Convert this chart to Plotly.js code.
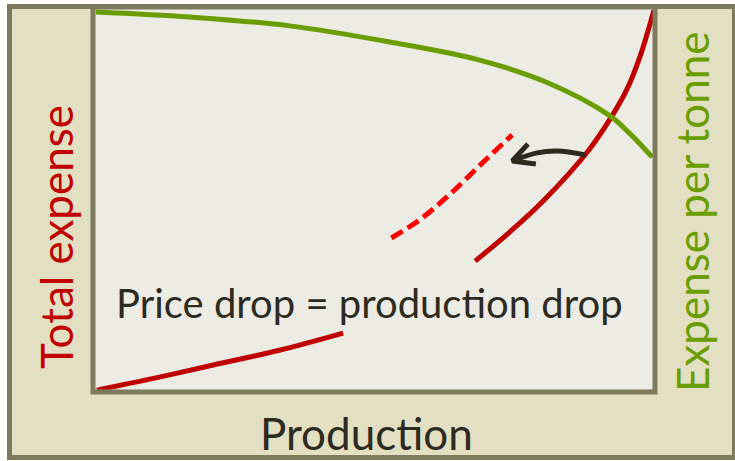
<!DOCTYPE html>
<html>
<head>
<meta charset="utf-8">
<script src="https://cdn.plot.ly/plotly-3.0.1.min.js"></script>
<style>html,body{margin:0;padding:0;background:#fff;}#chart{width:735px;height:461px;}</style>
</head>
<body>
<div id="chart"></div>
<script>
// Total expense curve (production, expense) - gap where the label sits
var totalX = [0.7, 11.0, 21.4, 33.3, 44.5, null, 68.0, 74.2, 80.1, 88.1, 92.3, 95.0, 97.3, 98.8, 99.8];
var totalY = [0.5, 3.6, 7.0, 10.9, 15.3, null, 34.0, 41.6, 49.6, 62.6, 71.6, 78.6, 87.0, 94.0, 99.2];
// Shifted total expense curve after the price drop (dashed)
var shiftedX = [53.1, 58.1, 63.4, 69.3, 74.6];
var shiftedY = [40.0, 44.7, 51.2, 59.5, 66.8];
// Expense per tonne curve
var perTonneX = [0.5, 17.2, 35.0, 52.8, 68.8, 80.6, 91.8, 95.4, 99.5];
var perTonneY = [98.7, 97.4, 95.1, 90.9, 86.2, 80.5, 71.9, 67.3, 61.0];
// Curved arrow (shaft and head)
var arrowShaftX = [87.6, 82.6, 79.0, 74.6];
var arrowShaftY = [61.6, 62.6, 62.1, 60.0];
var arrowHeadX = [77.4, 74.6, 78.8];
var arrowHeadY = [64.4, 60.0, 59.2];
// Texts
var xLabel = "Production";
var yLabel = "Total expense";
var y2Label = "Expense per tonne";
var note = "Price drop = production drop";

var RED = "#c00000", GREEN = "#6a9e00", DARK = "#2d2a1f", BORDER = "#7e7a5d";
var FONT = "Lato, 'Noto Sans', sans-serif";

var traces = [
  {x: totalX, y: totalY, mode: "lines", line: {color: RED, width: 5, shape: "spline", smoothing: 1}, connectgaps: false, hoverinfo: "skip"},
  {x: shiftedX, y: shiftedY, mode: "lines", line: {color: "#ff0000", width: 5, shape: "spline", dash: "13px,6px"}, hoverinfo: "skip"},
  {x: perTonneX, y: perTonneY, mode: "lines", line: {color: GREEN, width: 5, shape: "spline"}, hoverinfo: "skip"},
  {x: arrowShaftX, y: arrowShaftY, mode: "lines", line: {color: DARK, width: 5, shape: "spline"}, hoverinfo: "skip"},
  {x: arrowHeadX, y: arrowHeadY, mode: "lines", line: {color: DARK, width: 5}, hoverinfo: "skip"}
];

var layout = {
  width: 735, height: 461,
  margin: {l: 93, r: 80, t: 7, b: 69, pad: 0},
  paper_bgcolor: "#ffffff",
  plot_bgcolor: "rgba(0,0,0,0)",
  showlegend: false,
  xaxis: {range: [0, 100], showgrid: false, zeroline: false, showticklabels: false, ticks: "", showline: false, fixedrange: true},
  yaxis: {range: [0, 100], showgrid: false, zeroline: false, showticklabels: false, ticks: "", showline: false, fixedrange: true},
  shapes: [
    {type: "rect", xref: "paper", yref: "paper", x0: -0.1486, x1: 1.1415, y0: -0.1701, y1: 1.0013,
     fillcolor: "#e3dfc2", line: {color: BORDER, width: 5}, layer: "below"},
    {type: "rect", xref: "paper", yref: "paper", x0: 0, x1: 1, y0: 0, y1: 1,
     fillcolor: "#ecebe4", line: {width: 0}, layer: "below"},
    {type: "rect", xref: "paper", yref: "paper", x0: 0, x1: 1, y0: 0, y1: 1,
     fillcolor: "rgba(0,0,0,0)", line: {color: BORDER, width: 5}, layer: "above"}
  ],
  annotations: [
    {text: yLabel, xref: "paper", yref: "paper", x: -0.0658, y: 0.4026, xanchor: "center", yanchor: "middle",
     textangle: -90, showarrow: false, font: {family: FONT, size: 44, color: RED}},
    {text: y2Label, xref: "paper", yref: "paper", x: 1.0658, y: 0.4701, xanchor: "center", yanchor: "middle",
     textangle: -90, showarrow: false, font: {family: FONT, size: 44, color: GREEN}},
    {text: xLabel, xref: "paper", yref: "paper", x: 0.4875, y: -0.1065, xanchor: "center", yanchor: "middle",
     showarrow: false, font: {family: FONT, size: 44, color: DARK}},
    {text: note, xref: "paper", yref: "paper", x: 0.492, y: 0.2312, xanchor: "center", yanchor: "middle",
     showarrow: false, font: {family: FONT, size: 40, color: DARK}}
  ]
};

Plotly.newPlot("chart", traces, layout, {staticPlot: true, displayModeBar: false});
</script>
</body>
</html>
